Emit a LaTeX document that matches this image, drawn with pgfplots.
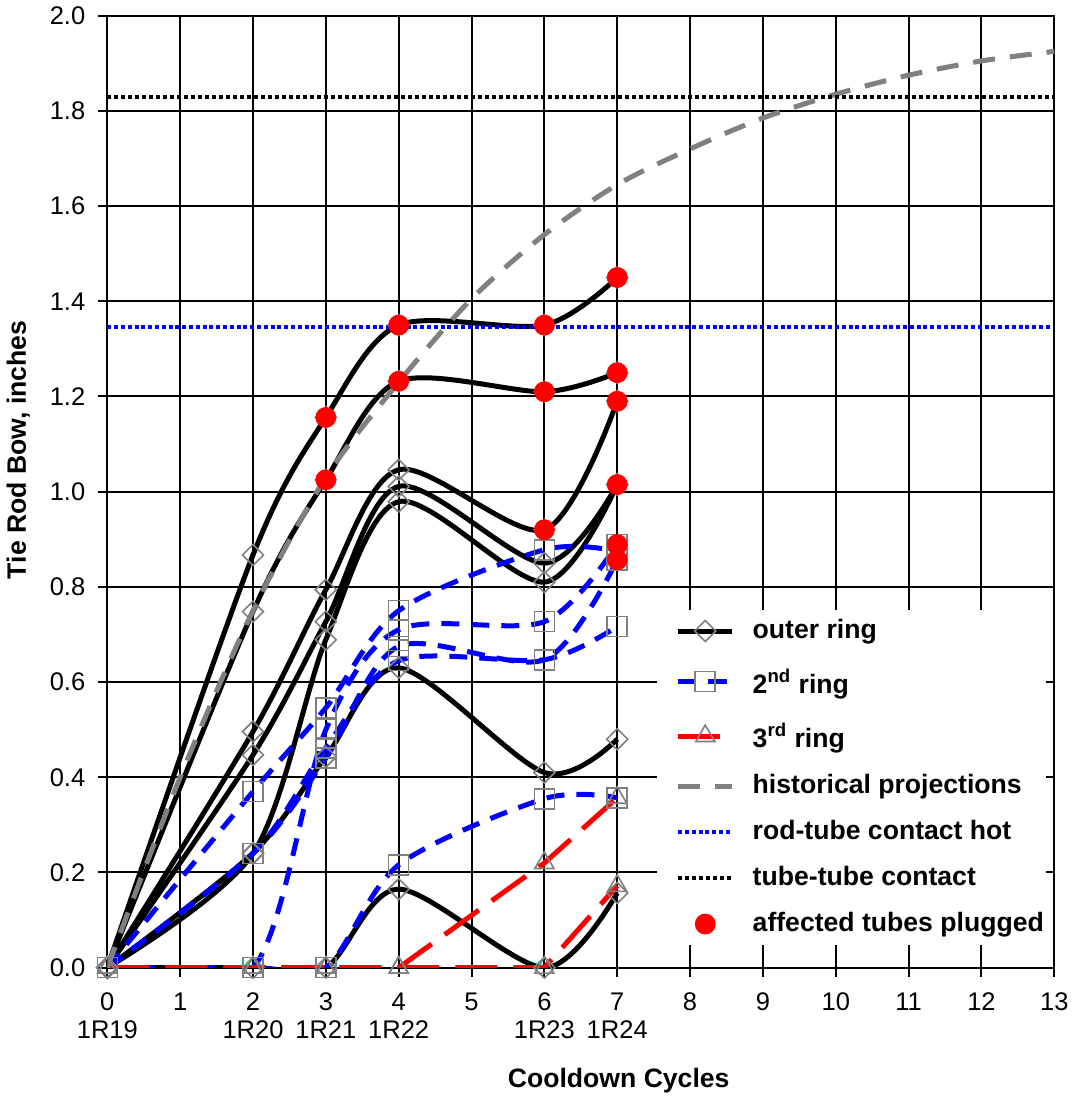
\documentclass[border=0pt]{standalone}
\usepackage{fontspec}
\setmainfont{Liberation Sans}
\usepackage{pgfplots}
\pgfplotsset{compat=1.18}

\definecolor{mgray}{RGB}{128,128,128}

\pgfplotsset{
  mylegend/.style={legend image code/.code={\path (0cm,0cm);
    \draw[mark repeat=2,mark phase=2,##1]
    plot coordinates {(0.334cm,0cm) (0.81cm,0cm) (1.284cm,0cm)};}},
  outer/.style={black, line width=2.5pt, smooth, mark=square, mark size=3.7pt,
    mark options={draw=mgray, fill=none, solid, line width=0.8pt, rotate=45}},
  ring2/.style={blue, line width=2.5pt, dash pattern=on 9pt off 6pt, smooth,
    mark=square, mark size=5pt,
    mark options={draw=mgray, fill=none, solid, line width=0.8pt}},
  ring3/.style={red, line width=2.5pt, dash pattern=on 21pt off 8pt,
    mark=triangle, mark size=5.5pt,
    mark options={draw=mgray, fill=none, solid, line width=0.8pt}},
}

\begin{document}
\begin{tikzpicture}
\begin{axis}[
  width=473.5pt, height=476pt, scale only axis,
  xmin=0, xmax=13, ymin=0, ymax=2,
  xtick={0,1,2,3,4,5,6,7,8,9,10,11,12,13},
  xticklabels={0\\1R19,1,2\\1R20,3\\1R21,4\\1R22,5,6\\1R23,7\\1R24,8,9,10,11,12,13},
  ytick={0,0.2,0.4,0.6,0.8,1.0,1.2,1.4,1.6,1.8,2.0},
  yticklabels={0.0,0.2,0.4,0.6,0.8,1.0,1.2,1.4,1.6,1.8,2.0},
  xticklabel style={align=center, font=\fontsize{12.75}{14}\selectfont, yshift=-4.5pt},
  yticklabel style={font=\fontsize{12.75}{15}\selectfont, xshift=-3pt},
  grid=major,
  major grid style={black, line width=1pt},
  axis line style={black, line width=1pt},
  tick style={black, line width=1pt},
  tick align=outside, major tick length=4.5pt,
  xtick pos=bottom, ytick pos=left,
  xlabel={Cooldown Cycles},
  ylabel={Tie Rod Bow, inches},
  label style={font=\bfseries\fontsize{13.3}{16}\selectfont},
  xlabel style={at={(ticklabel cs:0.54)}, yshift=-8pt},
  ylabel style={at={(ticklabel cs:0.544)}, yshift=3pt},
  legend style={at={(rel axis cs:0.5797,0.3761)}, anchor=north west,
    draw=none, fill=white, inner xsep=0pt, inner ysep=3pt, row sep=8pt,
    font=\bfseries\fontsize{13.3}{16}\selectfont,
    nodes={inner sep=1pt, text depth=3pt},
    /tikz/every odd column/.append style={column sep=8pt}},
  legend cell align=left,
  mylegend,
]

% outer ring
\addplot[outer] coordinates {(0,0)(2,0.867)(3,1.156)(4,1.35)(6,1.35)(7,1.45)};
\addlegendentry{\rule{0pt}{10pt}outer ring}
\addplot[outer, forget plot] coordinates {(0,0)(2,0.748)(3,1.025)(4,1.232)(6,1.21)(7,1.25)};
\addplot[outer, forget plot] coordinates {(0,0)(2,0.496)(3,0.794)(4,1.046)(6,0.92)(7,1.19)};
\addplot[outer, forget plot] coordinates {(0,0)(2,0.447)(3,0.727)(4,1.011)(6,0.85)(7,1.015)};
\addplot[outer, forget plot] coordinates {(0,0)(2,0.24)(3,0.689)(4,0.979)(6,0.81)(7,1.015)};
\addplot[outer, forget plot] coordinates {(0,0)(2,0.241)(3,0.443)(4,0.63)(6,0.41)(7,0.48)};
\addplot[outer, forget plot] coordinates {(0,0)(2,0)(3,0)(4,0.165)(6,0)(7,0.157)};

% 2nd ring
\addplot[ring2] coordinates {(0,0)(2,0.37)(3,0.546)(4,0.75)(6,0.878)(7,0.875)};
\addlegendentry{\rule{0pt}{14.5pt}2\textsuperscript{nd} ring}
\addplot[ring2, forget plot] coordinates {(0,0)(2,0)(3,0.50)(4,0.71)(6,0.727)(7,0.889)};
\addplot[ring2, forget plot] coordinates {(0,0)(2,0.24)(3,0.44)(4,0.675)(6,0.647)(7,0.857)};
\addplot[ring2, forget plot] coordinates {(0,0)(2,0.24)(3,0.462)(4,0.645)(6,0.647)(7,0.717)};
\addplot[ring2, forget plot] coordinates {(0,0)(2,0)(3,0)(4,0.216)(6,0.355)(7,0.357)};

% 3rd ring
\addplot[ring3] coordinates {(0,0)(2,0)(3,0)(4,0)(6,0.22)(7,0.357)};
\addlegendentry{\rule{0pt}{14pt}3\textsuperscript{rd} ring}
\addplot[ring3, forget plot] coordinates {(0,0)(2,0)(3,0)(4,0)(6,0)(7,0.172)};

% historical projections
\addplot[mgray, line width=2.5pt, dash pattern=on 11pt off 7.5pt, smooth] coordinates {
  (0,0)(1,0.40)(2,0.75)(3,1.03)(4,1.23)(5,1.405)(6,1.54)(7,1.645)
  (8,1.72)(9,1.785)(10,1.835)(11,1.875)(12,1.905)(13,1.925)};
\addlegendentry{\rule{0pt}{10pt}historical projections}

% contact limits
\addplot[blue, line width=2pt, dash pattern=on 2pt off 1.4pt] coordinates {(0,1.347)(13,1.347)};
\addlegendentry{\rule{0pt}{10pt}rod-tube contact hot}
\addplot[black, line width=2pt, dash pattern=on 2pt off 1.5pt] coordinates {(0,1.83)(13,1.83)};
\addlegendentry{\rule{0pt}{10pt}tube-tube contact}

% plugged
\addplot[only marks, mark=*, mark size=5pt, red, mark options={fill=red, draw=red}, mylegend]
  coordinates {
  (3,1.156)(3,1.025)(4,1.35)(4,1.232)(6,1.35)(6,1.21)(6,0.92)
  (7,1.45)(7,1.25)(7,1.19)(7,1.015)(7,0.889)(7,0.857)};
\addlegendentry{\rule{0pt}{10pt}affected tubes plugged}

\end{axis}
\end{tikzpicture}
\end{document}
